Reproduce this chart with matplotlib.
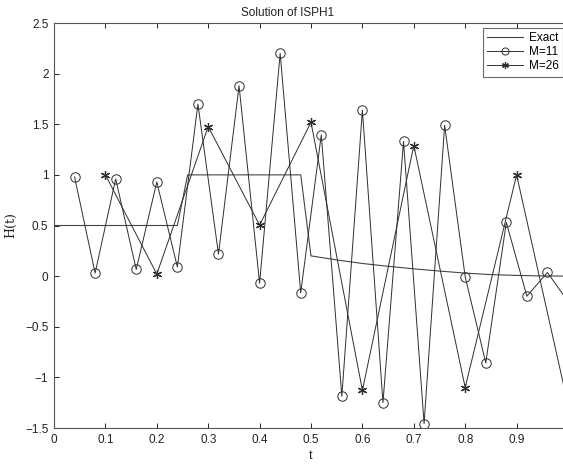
import matplotlib
matplotlib.use('Agg')
import matplotlib.pyplot as plt
import numpy as np

plt.rcParams['font.family'] = ['Liberation Sans', 'DejaVu Sans']
plt.rcParams['axes.unicode_minus'] = True

# exact solution H(t)
t_exact = [0, 0.24, 0.26, 0.48, 0.50, 0.55, 0.60, 0.65, 0.70, 0.75, 0.80, 0.85, 0.90, 0.95, 1.0]
h_exact = [0.5, 0.5, 1.0, 1.0, 0.2, 0.16, 0.125, 0.097, 0.072, 0.05, 0.03, 0.015, 0.007, 0.002, 0.0]

# M=11 solution
t_m11 = [0.04, 0.08, 0.12, 0.16, 0.20, 0.24, 0.28, 0.32, 0.36, 0.40, 0.44, 0.48, 0.52,
         0.56, 0.60, 0.64, 0.68, 0.72, 0.76, 0.80, 0.84, 0.88, 0.92, 0.96, 1.0]
h_m11 = [0.98, 0.03, 0.96, 0.066, 0.93, 0.09, 1.70, 0.218, 1.88, -0.07, 2.20, -0.165, 1.395,
         -1.187, 1.64, -1.25, 1.33, -1.457, 1.49, -0.007, -0.857, 0.53, -0.198, 0.036, -0.25]

# M=26 solution
t_m26 = [0.1, 0.2, 0.3, 0.4, 0.5, 0.6, 0.7, 0.8, 0.9, 1.0]
h_m26 = [1.0, 0.02, 1.477, 0.504, 1.52, -1.128, 1.29, -1.10, 1.0, -1.27]

xticks = [0, 0.1, 0.2, 0.3, 0.4, 0.5, 0.6, 0.7, 0.8, 0.9]
xlabels = ['0', '0.1', '0.2', '0.3', '0.4', '0.5', '0.6', '0.7', '0.8', '0.9']
yticks = [-1.5, -1, -0.5, 0, 0.5, 1, 1.5, 2, 2.5]
ylabels = ['\u22121.5', '\u22121', '\u22120.5', '0', '0.5', '1', '1.5', '2', '2.5']

W, H = 563, 469
fig = plt.figure(figsize=(W / 100, H / 100), dpi=100)
l, r, b, t = 54, 568, 428, 23
ax = fig.add_axes([l / W, 1 - b / H, (r - l) / W, (b - t) / H])

lc = '#2e2e2e'
ax.plot(t_exact, h_exact, '-', color='#444444', lw=0.8, label='Exact')
ax.plot(t_m11, h_m11, '-', color=lc, lw=0.7, marker='o', ms=6.8,
        mfc='none', mec=lc, mew=0.7, label='M=11')
ax.plot(t_m26, h_m26, '-', color=lc, lw=0.7, marker=(6, 2, 0), ms=6.5,
        mec=lc, mew=0.9, label='M=26')

ax.set_xlim(0, 1)
ax.set_ylim(-1.5, 2.5)
ax.set_xticks(xticks)
ax.set_xticklabels(xlabels)
ax.set_yticks(yticks)
ax.set_yticklabels(ylabels)
ax.tick_params(direction='in', length=3.6, width=0.7, top=True, right=True,
               labelsize=8.5, colors='#222222', pad=4)
for s in ax.spines.values():
    s.set_color('#555555')
    s.set_linewidth(0.8)

ax.set_title('Solution of ISPH1', fontsize=8.5, x=0.455, pad=5, color='#222222')
ax.set_xlabel('t', fontsize=9, labelpad=3, color='#222222')
ax.set_ylabel('H(t)', fontsize=9, family='DejaVu Serif', labelpad=6, color='#222222')

leg = ax.legend(loc='upper right', fontsize=8.5, frameon=True, fancybox=False,
                borderaxespad=0.4, handlelength=3.0, handletextpad=0.5,
                labelspacing=0.15, borderpad=0.4, markerscale=0.75)
leg.get_frame().set_edgecolor('#444444')
leg.get_frame().set_linewidth(0.8)

fig.savefig('out.png', dpi=100)
